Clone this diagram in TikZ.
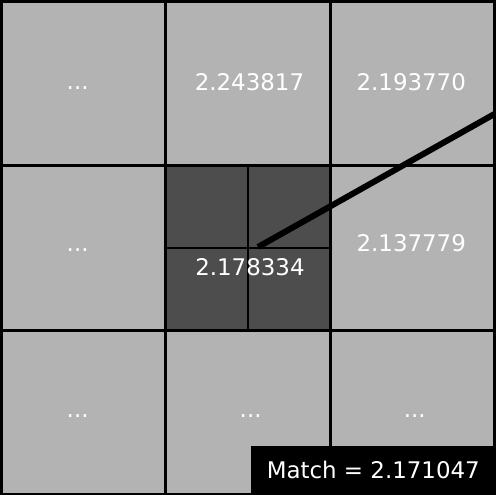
\documentclass[tikz,border=0pt]{standalone}
\usepackage{fontspec}
\setmainfont{DejaVu Sans}
\definecolor{cellgray}{HTML}{B3B3B3}
\definecolor{centergray}{HTML}{4D4D4D}
\begin{document}
\begin{tikzpicture}[line cap=butt,line join=miter,x=1bp,y=-1bp,
	cell/.style={draw=black,fill=cellgray,line width=3bp,minimum size=164.3bp,inner sep=0pt,outer sep=0pt,anchor=north west},
	val/.style={text=white,font=\fontsize{23}{27}\selectfont,inner sep=0pt}]
	\useasboundingbox (0,0) rectangle (496,495);
	\clip (0,0) rectangle (496,495);
	% grid of cells
	\foreach \i in {0,1,2}
		\foreach \j in {0,1,2}
			\node[cell] (c-\i-\j) at ({1.5+164.3*\i},{1.5+164.3*\j}) {};
	% center cell split in four
	\node[cell,fill=centergray] (mid) at (c-1-1.north west) {};
	\draw[line width=2bp] (mid.north) -- (mid.south);
	\draw[line width=2bp] (mid.west) -- (mid.east);
	% cell values
	\foreach \i/\j/\dx/\dy/\t in {0/0/-6/4/{...},1/0/1.5/-1.5/{2.243817},2/0/-1/-1.5/{2.193770},
		0/1/-6/2/{...},2/1/-1/-4.3/{2.137779},0/2/-6/4/{...},1/2/2.7/4/{...},2/2/2.5/4/{...}}
		\node[val] (v-\i-\j) at ([shift={(\dx,\dy)}]c-\i-\j.center) {\t};
	\node[val] (midval) at ([shift={(2,19)}]mid.center) {2.178334};
	% match direction
	\coordinate (m0) at (258,247);
	\coordinate (m1) at (530,94);
	\draw[line width=6bp] (m0) -- (m1);
	% result box
	\node[val,fill=black,anchor=south east,minimum width=245bp,minimum height=49bp] (match) at (496,495) {Match = 2.171047};
\end{tikzpicture}
\end{document}
